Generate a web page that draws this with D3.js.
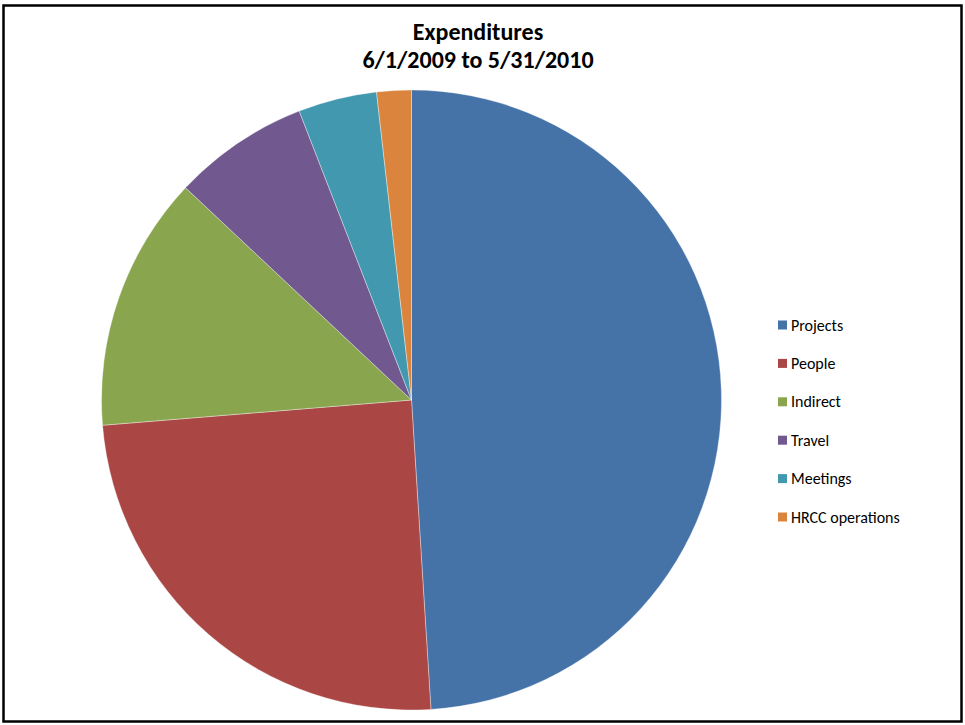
<!DOCTYPE html>
<html>
<head>
<meta charset="utf-8">
<script src="https://cdn.jsdelivr.net/npm/d3@7"></script>
<style>
  body { margin: 0; background: #fff; }
  text { font-family: Carlito, Calibri, 'Liberation Sans', Arial, sans-serif; fill: #000; }
</style>
</head>
<body>
<svg id="chart"></svg>
<script>
// data (percent of total)
const categories = ['Projects', 'People', 'Indirect', 'Travel', 'Meetings', 'HRCC operations'];
const values = [49.0, 24.7, 13.3, 7.1, 4.1, 1.8];
const colors = ['#4572A7', '#AA4643', '#89A54E', '#71588F', '#4198AF', '#DB843D'];
const titleLines = ['Expenditures', '6/1/2009 to 5/31/2010'];

const width = 965;
const height = 725;

const svg = d3.select('#chart')
  .attr('width', width)
  .attr('height', height);

// outer frame
svg.append('rect')
  .attr('x', 3.5)
  .attr('y', 5.5)
  .attr('width', 958)
  .attr('height', 716)
  .attr('fill', '#fff')
  .attr('stroke', '#000')
  .attr('stroke-width', 2.5);

// title
const titleG = svg.append('g').attr('class', 'title');
titleG.selectAll('text')
  .data(titleLines)
  .join('text')
    .attr('x', 478)
    .attr('y', (_, i) => 40 + i * 28)
    .attr('text-anchor', 'middle')
    .attr('font-size', 24)
    .attr('font-weight', 'bold')
    .text(d => d);

// pie
const cx = 411.5, cy = 400, r = 310;

const pie = d3.pie()
  .sort(null)
  .value(d => d);

const arc = d3.arc()
  .innerRadius(0)
  .outerRadius(r);

const color = d3.scaleOrdinal()
  .domain(categories)
  .range(colors);

const pieG = svg.append('g')
  .attr('transform', `translate(${cx}, ${cy})`);

pieG.selectAll('path')
  .data(pie(values))
  .join('path')
    .attr('d', arc)
    .attr('fill', (_, i) => color(categories[i]))
    .attr('stroke', '#fff')
    .attr('stroke-opacity', 0.6)
    .attr('stroke-width', 0.6);

// legend
const legendY = d3.scalePoint()
  .domain(categories)
  .range([325, 517]);

const legendG = svg.append('g').attr('class', 'legend');
const items = legendG.selectAll('g')
  .data(categories)
  .join('g')
    .attr('transform', d => `translate(778, ${legendY(d)})`);

items.append('rect')
  .attr('x', 0)
  .attr('y', -4.5)
  .attr('width', 9)
  .attr('height', 9)
  .attr('fill', d => color(d));

items.append('text')
  .attr('x', 13)
  .attr('y', 5.5)
  .attr('font-size', 16)
  .text(d => d);
</script>
</body>
</html>
